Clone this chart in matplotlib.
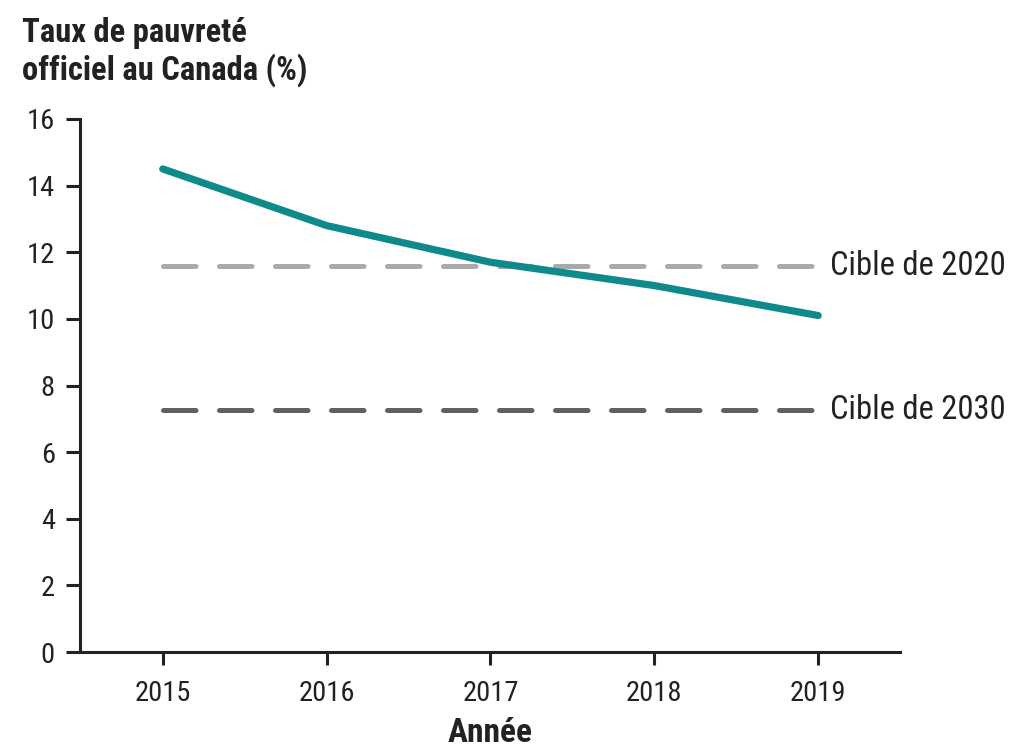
import matplotlib
matplotlib.use("Agg")
import matplotlib.pyplot as plt
from matplotlib import font_manager

# data
years = [2015, 2016, 2017, 2018, 2019]
taux = [14.5, 12.8, 11.7, 11.0, 10.1]
cible_2020 = 11.6
cible_2030 = 7.25

names = {f.name for f in font_manager.fontManager.ttflist}
fam = "Roboto"
for cand in ["Roboto Condensed", "Liberation Sans Narrow", "Arial Narrow"]:
    if cand in names:
        fam = cand
        break
plt.rcParams["font.family"] = [fam, "DejaVu Sans"]

axis_col = "#222222"

fig = plt.figure(figsize=(10.24, 7.55), dpi=100)
ax = fig.add_axes([0.078, 0.1364, 0.801, 0.706])

ax.plot(years, taux, color="#0f8a8a", lw=5.2, solid_capstyle="round", zorder=3)
ax.plot([years[0], years[-1]], [cible_2020] * 2, color="#a9a9a9", lw=3.6,
        dashes=(6.5, 4.7), dash_capstyle="round", zorder=2)
ax.plot([years[0], years[-1]], [cible_2030] * 2, color="#606060", lw=3.6,
        dashes=(6.5, 4.7), dash_capstyle="round", zorder=2)

ax.text(years[-1] + 0.07, cible_2020, "Cible de 2020", fontsize=23.5,
        va="center", ha="left", color=axis_col)
ax.text(years[-1] + 0.07, cible_2030, "Cible de 2030", fontsize=23.5,
        va="center", ha="left", color=axis_col)

ax.set_xlim(2014.494, 2019.5)
ax.set_ylim(0, 16)
ax.set_xticks(years)
ax.set_yticks(range(0, 17, 2))

for s in ["top", "right"]:
    ax.spines[s].set_visible(False)
for s in ["left", "bottom"]:
    ax.spines[s].set_linewidth(2.2)
    ax.spines[s].set_color(axis_col)

ax.tick_params(axis="both", colors=axis_col, width=2.2, labelsize=20.5,
               labelcolor=axis_col)
ax.tick_params(axis="x", length=9, pad=11)
ax.tick_params(axis="y", length=10, pad=8)

ax.set_xlabel("Année", fontsize=24, fontweight="bold", color=axis_col, labelpad=7)

fig.text(0.021, 0.978, "Taux de pauvreté\nofficiel au Canada (%)", fontsize=23.5,
         fontweight="bold", color=axis_col, va="top", ha="left", linespacing=1.17)

fig.savefig("out.png", dpi=100)
